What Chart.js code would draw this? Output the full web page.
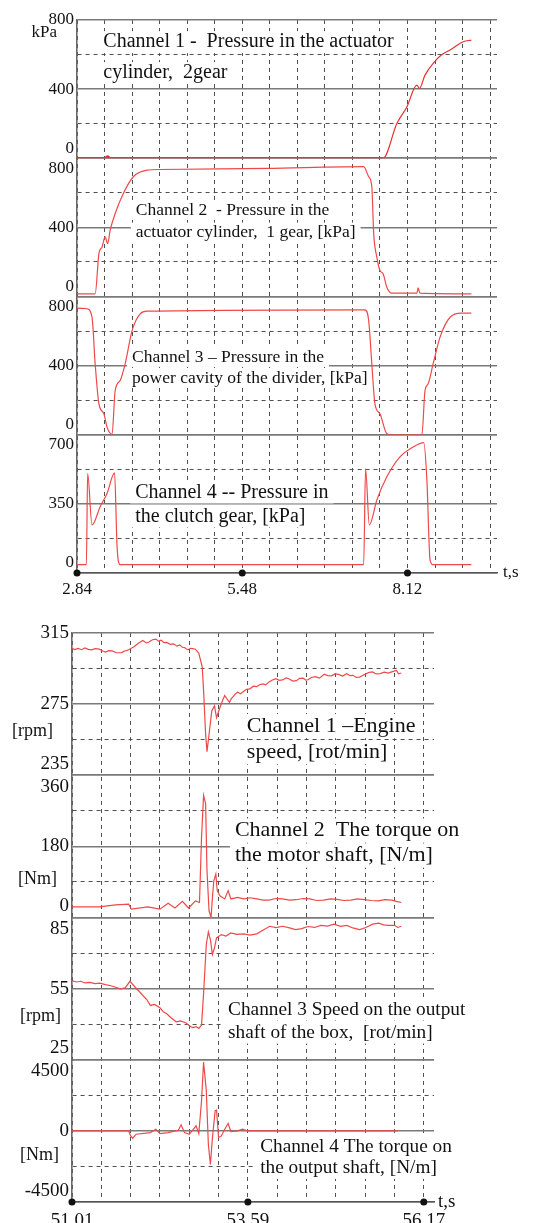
<!DOCTYPE html>
<html>
<head>
<meta charset="utf-8">
<script src="https://cdn.jsdelivr.net/npm/chart.js@4.4.0/dist/chart.umd.min.js"></script>
<style>
  html, body { margin: 0; padding: 0; background: #fff; }
  body { width: 542px; height: 1223px; position: relative; overflow: hidden; }
  canvas { position: absolute; left: 0; }
  #upper { top: 0; }
  #lower { top: 605px; }
</style>
</head>
<body>
<canvas id="upper" width="542" height="605"></canvas>
<canvas id="lower" width="542" height="618"></canvas>
<script>
const SERIF = '"Liberation Serif", "Times New Roman", serif';
const RED = '#f04848';

// ---------- upper block: pressures [kPa], t in s ----------
const upperTimeLabels = ['2.84', '5.48', '8.12'];
const upperGridStep = 0.44;

const actuator2gear = [
  [2.84, 0], [3.28, 0], [3.33, 10], [3.37, 0], [7.73, 0], [7.95, 201], [8.11, 297],
  [8.27, 423], [8.31, 404], [8.40, 481], [8.53, 549], [8.66, 597], [8.80, 626], [9.01, 674], [9.14, 684]
];
const actuator1gear = [
  [2.84, 15], [3.13, 15], [3.19, 248], [3.24, 287], [3.29, 345], [3.33, 306], [3.37, 384],
  [3.45, 480], [3.58, 596], [3.74, 693], [3.96, 731], [4.17, 735], [5.87, 741], [7.42, 751],
  [7.50, 693], [7.55, 635], [7.58, 364], [7.63, 228], [7.68, 151], [7.73, 132], [7.79, 54],
  [7.87, 19], [8.27, 19], [8.29, 50], [8.32, 19], [9.14, 15]
];
const dividerCavity = [
  [2.84, 733], [3.00, 729], [3.08, 680], [3.13, 411], [3.19, 179], [3.27, 121], [3.32, 44],
  [3.40, 2], [3.45, 256], [3.53, 314], [3.61, 411], [3.72, 603], [3.85, 700], [3.96, 715],
  [7.44, 723], [7.50, 661], [7.55, 411], [7.60, 179], [7.68, 121], [7.79, 6], [7.87, 0],
  [8.35, 0], [8.40, 256], [8.45, 295], [8.53, 411], [8.64, 565], [8.80, 680], [8.98, 704], [9.14, 704]
];
const clutchGear = [
  [2.84, 42], [2.99, 42], [3.01, 504], [3.08, 243], [3.21, 336], [3.32, 403], [3.44, 507],
  [3.48, 134], [3.53, 42], [7.42, 42], [7.45, 529], [7.51, 243], [7.63, 369], [7.79, 487],
  [8.00, 588], [8.21, 638], [8.38, 660], [8.43, 470], [8.48, 67], [8.53, 42], [9.14, 42]
];

// ---------- lower block: speeds and torques, t in s ----------
const lowerTimeLabels = ['51.01', '53.59', '56.17'];
const lowerGridStep = 0.43;

const engineSpeed = [
  [51.01, 306.4], [51.05, 305.7], [51.10, 306.3], [51.15, 305.6], [51.20, 306.6], [51.25, 305.8],
  [51.30, 305.5], [51.35, 306.2], [51.41, 305.9], [51.46, 304.9], [51.50, 304.3], [51.55, 305.1],
  [51.60, 304.9], [51.66, 303.9], [51.74, 304.0], [51.78, 304.9], [51.82, 305.2], [51.88, 306.4],
  [51.92, 307.3], [51.96, 308.5], [52.00, 309.6], [52.05, 310.8], [52.10, 309.4], [52.14, 309.9],
  [52.19, 311.2], [52.24, 311.6], [52.28, 310.4], [52.32, 310.9], [52.36, 309.6], [52.40, 309.7],
  [52.45, 308.6], [52.50, 308.9], [52.55, 307.6], [52.59, 308.3], [52.63, 307.0], [52.66, 306.8],
  [52.71, 305.5], [52.75, 306.4], [52.78, 306.2], [52.82, 305.9], [52.87, 303.6], [52.92, 296],
  [52.94, 282.6], [52.97, 257.9], [52.99, 248.3], [53.02, 257.9], [53.06, 271.2], [53.10, 274],
  [53.13, 267.4], [53.18, 273.1], [53.22, 277.2], [53.25, 279.8], [53.29, 277.6], [53.32, 276],
  [53.35, 278.3], [53.38, 279.5], [53.41, 280.9], [53.44, 281.7], [53.48, 280.8], [53.53, 282.2],
  [53.57, 283.3], [53.62, 283.6], [53.67, 285.1], [53.72, 284.8], [53.76, 285.9], [53.81, 286.4],
  [53.85, 285.8], [53.90, 287.5], [53.95, 288.6], [54.00, 289.3], [54.05, 288.4], [54.10, 288.6],
  [54.15, 289.7], [54.19, 289.3], [54.25, 288.0], [54.30, 288.2], [54.35, 289.5], [54.40, 289.6],
  [54.44, 288.5], [54.47, 288.7], [54.52, 290.0], [54.58, 290.4], [54.64, 289.6], [54.71, 291.8],
  [54.76, 291.0], [54.82, 290.9], [54.87, 292.1], [54.93, 291.6], [54.98, 290.8], [55.04, 292.1],
  [55.09, 291.0], [55.13, 291.2], [55.18, 290.0], [55.23, 290.2], [55.27, 291.1], [55.32, 292.0],
  [55.37, 292.9], [55.42, 293.1], [55.47, 292.0], [55.53, 292.2], [55.59, 293.0], [55.65, 292.5],
  [55.71, 293.3], [55.77, 294], [55.80, 292.0], [55.84, 292.5]
];
const motorTorque = [
  [51.01, 27], [51.41, 27], [51.65, 32], [51.84, 34], [51.88, 21], [52.12, 27], [52.30, 21],
  [52.42, 36], [52.52, 24], [52.63, 41], [52.72, 24], [52.82, 42], [52.88, 38], [52.91, 203],
  [52.94, 309], [52.97, 288], [52.99, 119], [53.02, 17], [53.05, 0], [53.07, 51], [53.09, 93],
  [53.12, 110], [53.14, 68], [53.18, 55], [53.25, 47], [53.30, 68], [53.34, 47], [53.44, 51],
  [53.53, 47], [53.62, 50], [53.72, 47], [53.81, 44], [53.90, 44], [54.00, 48], [54.10, 47],
  [54.20, 44], [54.30, 45], [54.40, 48], [54.50, 47], [54.60, 43], [54.70, 44], [54.80, 47],
  [54.90, 46], [55.00, 43], [55.10, 44], [55.20, 47], [55.30, 45], [55.40, 43], [55.50, 42],
  [55.60, 45], [55.70, 44], [55.77, 41], [55.84, 38]
];
const outputSpeed = [
  [51.01, 58.3], [51.08, 57.8], [51.14, 58.1], [51.20, 57.4], [51.27, 57.6], [51.35, 57.1],
  [51.42, 57.3], [51.50, 56.7], [51.58, 56.2], [51.65, 55.6], [51.72, 54.9], [51.79, 55.3],
  [51.86, 58.1], [51.93, 55.8], [51.99, 54.0], [52.05, 52.1], [52.11, 50.3], [52.16, 47.9],
  [52.22, 48.3], [52.30, 46.9], [52.35, 45.2], [52.40, 44.4], [52.47, 42.5], [52.54, 41],
  [52.60, 41.4], [52.68, 40.6], [52.73, 39.3], [52.78, 38.6], [52.83, 39.0], [52.87, 38.2],
  [52.91, 39.6], [52.94, 52.8], [52.98, 73.6], [53.01, 78.9], [53.04, 75.7], [53.07, 69.4],
  [53.10, 72.2], [53.13, 76.4], [53.20, 77.8], [53.27, 77.2], [53.34, 78.5], [53.43, 77.9],
  [53.53, 78.1], [53.62, 77.6], [53.72, 78.1], [53.81, 79.6], [53.91, 81.3], [54.00, 80.7],
  [54.10, 81.3], [54.20, 80.6], [54.29, 79.9], [54.38, 80.3], [54.47, 81.2], [54.57, 80.8],
  [54.66, 81.7], [54.76, 81.4], [54.85, 82.2], [54.95, 81.3], [55.04, 81.7], [55.13, 80.6],
  [55.23, 79.9], [55.32, 80.8], [55.42, 82.2], [55.51, 82.6], [55.58, 81.9], [55.65, 81.7],
  [55.74, 81.7], [55.79, 80.8], [55.84, 81.3]
];
const outputTorque = [
  [51.01, 0], [51.74, 0], [51.84, 0], [51.87, -318], [51.90, -467], [51.95, -212], [52.16, -106],
  [52.24, 106], [52.30, -170], [52.42, -106], [52.57, 42], [52.61, 382], [52.66, -106],
  [52.73, -212], [52.78, 42], [52.83, 318], [52.87, -170], [52.91, 1910], [52.94, 4351],
  [52.98, 2547], [53.01, -849], [53.04, -2123], [53.07, -425], [53.11, 1274], [53.13, 1316],
  [53.16, -425], [53.20, -318], [53.25, 106], [53.30, 467], [53.34, -42], [53.44, 0],
  [53.51, 106], [53.58, 0], [55.79, 0]
];

// ---------- helpers ----------
function gridTicks(start, step, count) {
  const out = [];
  for (let i = 0; i < count; i++) out.push(+(start + i * step).toFixed(2));
  return out;
}

function stackedY(min, max, weight, opt) {
  const step = (max - min) / 4;
  return {
    type: 'linear', position: 'left', stack: 'channels', stackWeight: 1, weight,
    min, max,
    afterBuildTicks: s => { s.ticks = [0, 1, 2, 3, 4].map(i => ({ value: min + i * step })); },
    afterFit: s => { s.width = opt.left; s.paddingTop = 0; s.paddingBottom = 0; },
    grid: {
      drawTicks: false,
      color: c => c.index % 2 ? '#505050' : '#7a7a7a',
      lineWidth: c => c.index % 2 ? 1 : 1.6
    },
    border: { color: '#6a6a6a', width: 1.6, dash: c => (c.tick && c.index % 2) ? [4, 4] : [] },
    ticks: {
      autoSkip: false, padding: 3, color: '#111',
      font: c => ({ family: SERIF, size: opt.size, lineHeight: (opt.topLH && c.index === 4) ? opt.topLH : 1.2 }),
      callback: (v, i) => {
        const s = String(v);
        if (i === 0) return [s, ''];
        if (i === 2) return s;
        if (i === 4) return opt.top || ['', s];
        return '';
      }
    }
  };
}

function timeX(min, max, ticks, labels, opt) {
  return {
    type: 'linear', position: 'bottom', min, max,
    afterBuildTicks: s => { s.ticks = ticks.map(value => ({ value })); },
    afterFit: s => { s.height = opt.height; s.paddingLeft = 0; s.paddingRight = 0; },
    grid: { drawTicks: false, color: '#505050', lineWidth: 1 },
    border: { color: '#555', width: 1.6, dash: c => c.tick ? [4, 4] : [] },
    ticks: {
      autoSkip: false, maxRotation: 0, padding: opt.pad, color: '#111',
      font: { family: SERIF, size: opt.size },
      callback: (v, i) => i % 6 === 0 ? labels[i / 6] : ''
    }
  };
}

function series(points, yAxisID, extra) {
  return Object.assign({
    data: points.map(([x, y]) => ({ x, y })), yAxisID, xAxisID: 'x',
    borderColor: RED, borderWidth: 1.2, pointRadius: 0, fill: false, tension: 0
  }, extra || {});
}

// channel captions, unit labels, axis dots and "t,s"
const notesPlugin = {
  id: 'notes',
  beforeDatasetsDraw(chart, args, opts) {
    const ctx = chart.ctx;
    const xs = chart.scales.x;
    ctx.save();
    ctx.textBaseline = 'middle';
    opts.captions.forEach(n => {
      const ys = chart.scales[n.axis];
      const px = xs.getPixelForValue(n.t);
      let py = ys.getPixelForValue(n.v);
      ctx.font = n.size + 'px ' + SERIF;
      n.lines.forEach(line => {
        const w = ctx.measureText(line).width;
        ctx.fillStyle = '#fff';
        ctx.fillRect(px - 5, py - n.size * 0.55, w + 10, n.size * 1.1);
        ctx.fillStyle = '#111';
        ctx.fillText(line, px, py);
        py += n.gap;
      });
    });
    ctx.restore();
  },
  afterDraw(chart, args, opts) {
    const ctx = chart.ctx;
    const xs = chart.scales.x;
    ctx.save();
    ctx.textBaseline = 'middle';
    ctx.fillStyle = '#111';
    (opts.units || []).forEach(u => {
      ctx.font = u.size + 'px ' + SERIF;
      ctx.fillText(u.text, u.x, chart.scales[u.axis].getPixelForValue(u.v));
    });
    opts.dots.forEach(v => {
      ctx.beginPath();
      ctx.arc(xs.getPixelForValue(v), xs.top, 3.5, 0, Math.PI * 2);
      ctx.fill();
    });
    ctx.font = opts.unitSize + 'px ' + SERIF;
    ctx.fillText('t,s', xs.right + opts.unitGap, xs.top);
    ctx.restore();
  }
};

// ---------- upper chart ----------
const upperOpt = { left: 77, size: 17 };
new Chart(document.getElementById('upper'), {
  type: 'line',
  data: {
    datasets: [
      series(actuator2gear, 'y1', {
        borderColor: '#e83030', cubicInterpolationMode: 'monotone',
        segment: { borderWidth: c => (c.p0.parsed.y < 20 && c.p1.parsed.y < 20) ? 2.4 : 1.2 }
      }),
      series(actuator1gear, 'y2', { cubicInterpolationMode: 'monotone' }),
      series(dividerCavity, 'y3', { cubicInterpolationMode: 'monotone' }),
      series(clutchGear, 'y4', { cubicInterpolationMode: 'monotone' })
    ]
  },
  options: {
    responsive: false, animation: false, devicePixelRatio: 1,
    layout: { padding: { left: 0, right: 45, top: 20, bottom: 0 } },
    plugins: {
      legend: { display: false }, tooltip: { enabled: false },
      notes: {
        captions: [
          { axis: 'y1', t: 3.26, v: 672, size: 20, gap: 31, lines: ['Channel 1 -  Pressure in the actuator', 'cylinder,  2gear'] },
          { axis: 'y2', t: 3.78, v: 499, size: 17.5, gap: 22, lines: ['Channel 2  - Pressure in the', 'actuator cylinder,  1 gear, [kPa]'] },
          { axis: 'y3', t: 3.72, v: 448, size: 17.5, gap: 21, lines: ['Channel 3 \u2013 Pressure in the', 'power cavity of the divider, [kPa]'] },
          { axis: 'y4', t: 3.77, v: 408, size: 20, gap: 24, lines: ['Channel 4 -- Pressure in', 'the clutch gear, [kPa]'] }
        ],
        dots: upperTimeLabels.map(Number),
        unitSize: 17, unitGap: 6
      }
    },
    scales: {
      x: timeX(2.84, 9.55, gridTicks(2.84, upperGridStep, 16), upperTimeLabels, { height: 32, pad: 6, size: 17 }),
      y1: stackedY(0, 800, 4, Object.assign({ top: ['', '800', 'kPa    '], topLH: 0.74 }, upperOpt)),
      y2: stackedY(0, 800, 3, upperOpt),
      y3: stackedY(0, 800, 2, upperOpt),
      y4: stackedY(0, 700, 1, upperOpt)
    }
  },
  plugins: [notesPlugin]
});

// ---------- lower chart ----------
const lowerOpt = { left: 72, size: 19 };
new Chart(document.getElementById('lower'), {
  type: 'line',
  data: {
    datasets: [
      series(engineSpeed, 'y1'),
      series(motorTorque, 'y2'),
      series(outputSpeed, 'y3'),
      series(outputTorque, 'y4')
    ]
  },
  options: {
    responsive: false, animation: false, devicePixelRatio: 1,
    layout: { padding: { left: 0, right: 108, top: 28, bottom: 0 } },
    plugins: {
      legend: { display: false }, tooltip: { enabled: false },
      notes: {
        captions: [
          { axis: 'y1', t: 53.575, v: 262.6, size: 22, gap: 26, lines: ['Channel 1 \u2013Engine', 'speed, [rot/min]'] },
          { axis: 'y2', t: 53.40, v: 220, size: 22, gap: 25, lines: ['Channel 2  The torque on', 'the motor shaft, [N/m]'] },
          { axis: 'y3', t: 53.30, v: 46, size: 19.3, gap: 23, lines: ['Channel 3 Speed on the output', 'shaft of the box,  [rot/min]'] },
          { axis: 'y4', t: 53.77, v: -1038, size: 19.3, gap: 21, lines: ['Channel 4 The torque on', 'the output shaft, [N/m]'] }
        ],
        units: [
          { axis: 'y1', v: 259.8, x: 12, size: 18, text: '[rpm]' },
          { axis: 'y2', v: 98, x: 18, size: 18, text: '[Nm]' },
          { axis: 'y3', v: 43.5, x: 20, size: 18, text: '[rpm]' },
          { axis: 'y4', v: -1542, x: 20, size: 18, text: '[Nm]' }
        ],
        dots: [51.01, 53.59, 56.17],
        unitSize: 19, unitGap: 4
      }
    },
    scales: {
      x: timeX(51.01, 56.32, gridTicks(51.01, lowerGridStep, 13), lowerTimeLabels, { height: 21, pad: 8, size: 19 }),
      y1: stackedY(235, 315, 4, Object.assign({ top: '315' }, lowerOpt)),
      y2: stackedY(0, 360, 3, lowerOpt),
      y3: stackedY(25, 85, 2, lowerOpt),
      y4: stackedY(-4500, 4500, 1, lowerOpt)
    }
  },
  plugins: [notesPlugin]
});
</script>
</body>
</html>
